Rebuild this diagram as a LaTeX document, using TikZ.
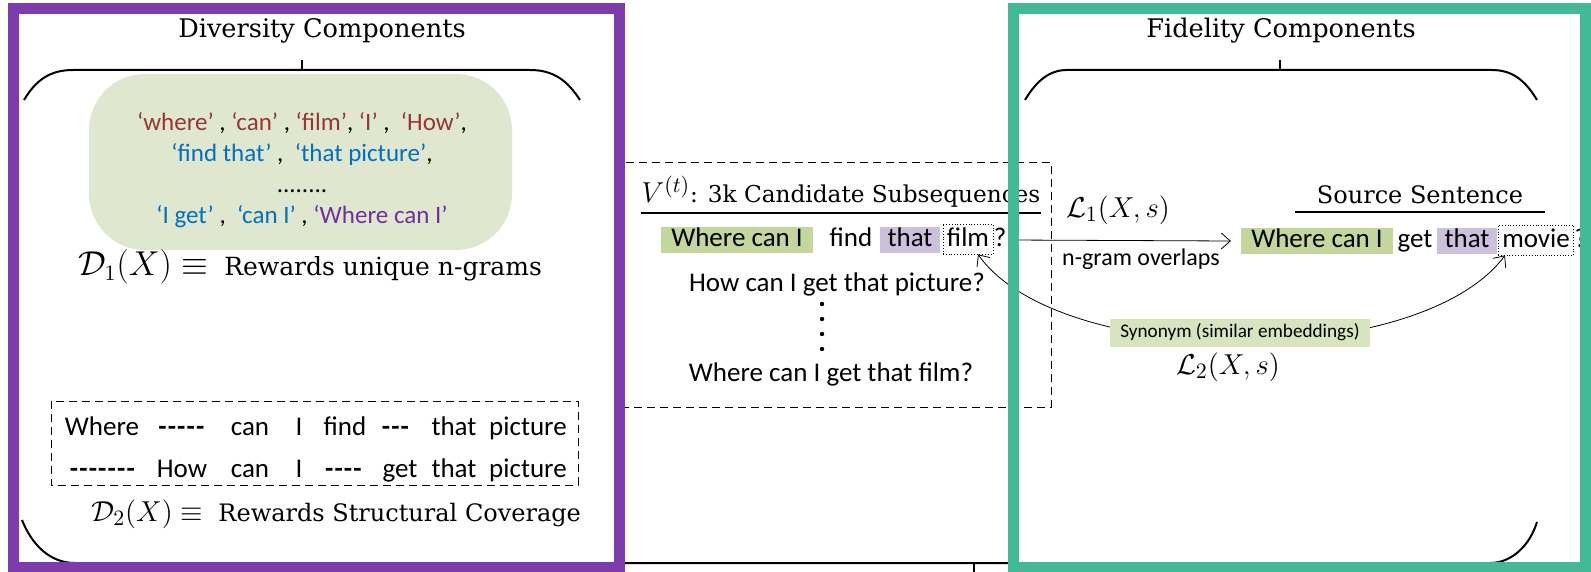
\documentclass[tikz,border=0pt]{standalone}
\usepackage{fontspec}
\newfontfamily\carlito{Carlito}
\newfontfamily\serf{DejaVu Serif}
\usetikzlibrary{arrows.meta}
\definecolor{frmpurple}{RGB}{126,59,173}
\definecolor{frmgreen}{RGB}{67,186,151}
\definecolor{boxgreen}{RGB}{224,231,207}
\definecolor{hlgreen}{RGB}{195,214,155}
\definecolor{hlpurple}{RGB}{204,192,218}
\definecolor{syngreen}{RGB}{215,228,189}
\definecolor{wred}{RGB}{149,55,53}
\definecolor{wblue}{RGB}{0,112,192}
\definecolor{wpurple}{RGB}{112,48,160}
\newcommand\rw[1]{\textcolor{wred}{‘#1’}}
\newcommand\bw[1]{\textcolor{wblue}{‘#1’}}
\newcommand\pw[1]{\textcolor{wpurple}{‘#1’}}
\newcommand\mth[2][16]{{\fontsize{#1}{19}\selectfont$#2$}}
\newcommand\skp[1]{{\bfseries\foreach\k in {1,...,#1}{-\kern.6pt}}}
\begin{document}
\begin{tikzpicture}[x=0.5pt,y=-0.5pt,
    ttl/.style={font=\serf\fontsize{12.8}{15}\selectfont,inner sep=0pt},
    mathlbl/.style={font=\fontsize{15}{18}\selectfont,inner sep=0pt},
    snt/.style={font=\carlito\fontsize{13.5}{16}\selectfont,inner sep=0pt,text height=9.5pt,text depth=2.5pt,anchor=base},
    hlg/.style={snt,fill=hlgreen,inner xsep=5pt,inner ysep=0.5pt},
    hlp/.style={snt,fill=hlpurple,inner xsep=4pt,inner ysep=0.5pt},
    dotbox/.style={snt,draw,densely dotted,text height=10.5pt,inner xsep=2pt,inner ysep=1pt},
    dbx/.style={dash pattern=on 4pt off 2.5pt},
    brc/.style={line width=1pt},
    >={Straight Barb[length=4.5pt,width=8pt]}]
    \useasboundingbox (0,0) rectangle (1591,572);

    \node[ttl] (dtl) at (322,31) {Diversity Components};
    \draw[brc] (24,100) .. controls (36,80) and (50,70) .. (73,70) -- (530,70) .. controls (553,70) and (567,80) .. (580,100);
    \draw[brc] (302,70) -- (302,60);
    \node[ttl] (ftl) at (1281,31) {Fidelity Components};
    \draw[brc] (1025,100) .. controls (1037,80) and (1050,70) .. (1067,70) -- (1492,70) .. controls (1512,70) and (1525,80) .. (1537,100);
    \draw[brc] (1280,70) -- (1280,60);
    \draw[brc] (22,520) .. controls (32,545) and (50,563) .. (75,563) -- (1490,563) .. controls (1512,563) and (1530,545) .. (1537,522);
    \draw[brc] (974,563) -- (974,575);

    \fill[boxgreen,rounded corners=28pt] (89,74) rectangle (512,250);
    \node[font=\carlito\fontsize{12.5}{14.5}\selectfont,align=center] (ngr) at (302,170)
        {\rw{where} , \rw{can} , \rw{film}, \rw{I} ,\ \ \rw{How},\\[1pt]
         \bw{find that} ,\ \ \bw{that picture},\\[1pt]
         ........\\[1pt]
         \bw{I get} ,\ \ \bw{can I} , \pw{Where can I}};
    \node[ttl,font=\serf\fontsize{12.5}{15}\selectfont] (d1) at (310,267) {\mth{\mathcal{D}_1(X)\equiv}\ \ Rewards unique n-grams};

    \draw[dbx] (51,401) rectangle (578,485);
    \foreach \w/\x [count=\i] in {Where/102,\skp{5}/182,can/250,I/299,find/345,\skp{3}/396,that/454,picture/528}
        \node[snt] (ra\i) at (\x,435) {\w};
    \foreach \w/\x [count=\i] in {\skp{7}/103,How/182,can/250,I/299,\skp{4}/344,get/400,that/454,picture/528}
        \node[snt] (rb\i) at (\x,477) {\w};
    \node[ttl,font=\serf\fontsize{12}{15}\selectfont] (d2) at (336,514) {\mth[15.5]{\mathcal{D}_2(X)\equiv}\ \ Rewards Structural Coverage};

    \draw[dbx] (619,162) rectangle (1051,407);
    \node[ttl,font=\serf\fontsize{11.6}{15}\selectfont,anchor=base] (hdr) at (841,203) {\mth[15.5]{V^{(t)}}: 3k Candidate Subsequences};
    \draw[line width=1pt] ([yshift=-5pt]hdr.base west) -- ([yshift=-5pt]hdr.base east);
    \node[hlg] (cw) at (737,247) {Where can I};
    \node[snt] (cf) at (851,247) {find};
    \node[hlp] (ct) at (910,247) {that};
    \node[dotbox] (cfilm) at (968,247) {film};
    \node[snt,anchor=base west] (cq) at (cfilm.base east) {?};
    \node[snt] (c2) at (837,292) {How can I get that picture?};
    \foreach \y [count=\i] in {304,319,334,349}
        \fill (822,\y) circle (1.1pt);
    \node[snt] (c3) at (831,381) {Where can I get that film?};

    \node[ttl,font=\serf\fontsize{12}{15}\selectfont,anchor=base] (src) at (1420,204) {Source Sentence};
    \draw[line width=1pt] ([xshift=-11pt,yshift=-4pt]src.base west) -- ([xshift=11pt,yshift=-4pt]src.base east);
    \node[hlg] (sw) at (1317,248) {Where can I};
    \node[snt] (sg) at (1415,248) {get};
    \node[hlp] (st) at (1467,248) {that};
    \node[dotbox] (smovie) at (1536,248) {movie};
    \node[snt,anchor=base west] (sq) at (smovie.base east) {?};

    \draw[<->] ([xshift=1pt]cq.east) -- ([xshift=-5pt]sw.west);
    \node[mathlbl] (l1) at (1118,210) {$\mathcal{L}_1(X,s)$};
    \node[font=\carlito\fontsize{12}{14}\selectfont] (ng) at (1141,259) {n-gram overlaps};
    \draw[<->] ([xshift=5pt]cfilm.south) .. controls (1060,370) and (1420,370) .. ([xshift=-15.5pt]smovie.south);
    \node[font=\carlito\fontsize{9.6}{12}\selectfont,fill=syngreen,text height=7pt,text depth=2pt,inner xsep=5pt,inner ysep=2.5pt] (syn) at (1240,333) {Synonym (similar embeddings)};
    \node[mathlbl] (l2) at (1228,367) {$\mathcal{L}_2(X,s)$};

    \draw[frmpurple,line width=5.5pt] (13,9) rectangle (619,567.5);
    \draw[frmgreen,line width=5.5pt] (1013,9) rectangle (1585.5,567.5);
\end{tikzpicture}
\end{document}
